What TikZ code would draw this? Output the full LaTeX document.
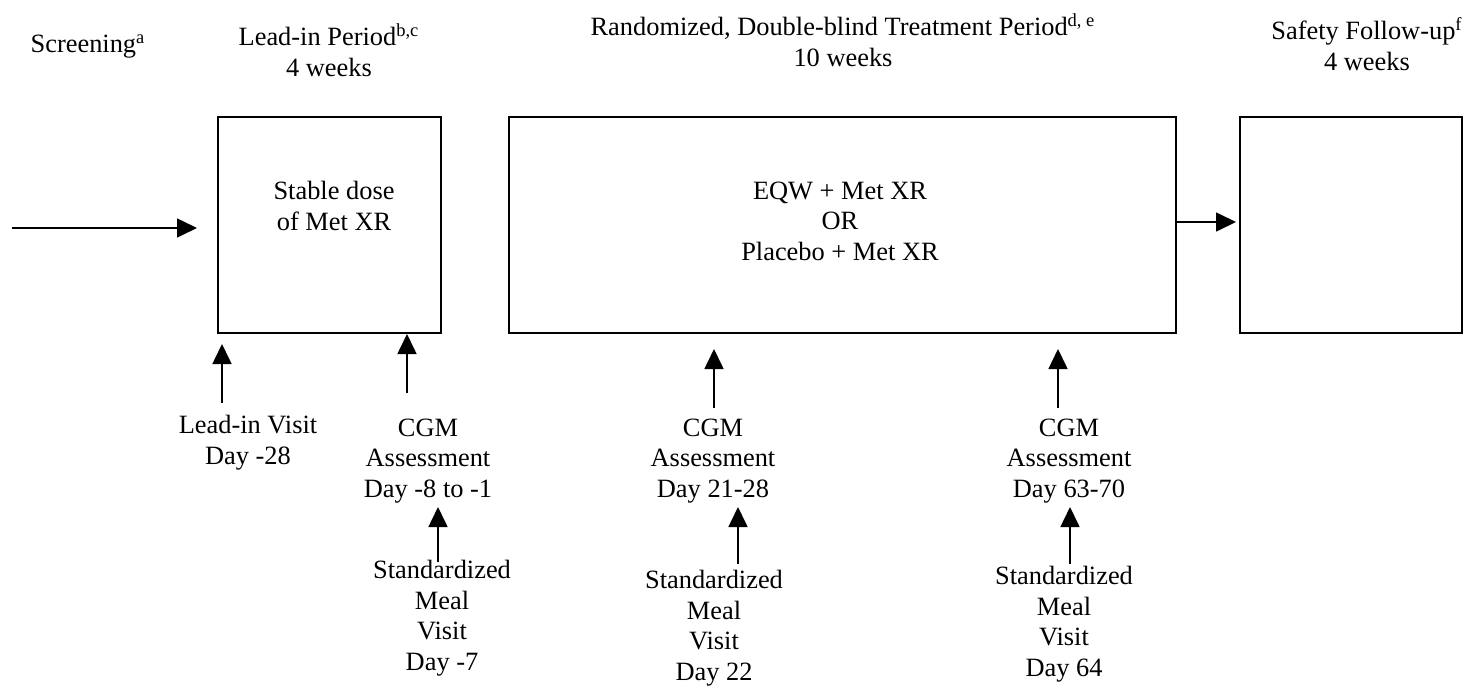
\documentclass[tikz,border=0pt]{standalone}
\usepackage{fontspec}
\setmainfont{Liberation Serif}
\usetikzlibrary{arrows.meta}
\begin{document}
\begin{tikzpicture}[x=0.5pt,y=-0.5pt,
  txt/.style={font=\fontsize{13.2}{15.25}\selectfont, align=center, inner sep=0pt, anchor=base},
  box/.style={draw, line width=1pt, inner sep=0pt},
  arr/.style={line width=0.8pt, -{Triangle[length=10pt,width=9.5pt]}}]
\useasboundingbox (0,0) rectangle (1466,685);

% headings (anchor = baseline of last line)
\node[txt] (scr) at (88,52) {Screening\textsuperscript{a}};
\node[txt] (lead) at (329,76) {Lead-in Period\textsuperscript{b,c}\\4 weeks};
\node[txt] (rand) at (843,66) {Randomized, Double-blind Treatment Period\textsuperscript{d, e}\\10 weeks};
\node[txt] (safe) at (1367,70) {Safety Follow-up\textsuperscript{f}\\4 weeks};

% boxes
\node[box, minimum width=111.5pt, minimum height=108pt] (b1) at (329.5,225) {};
\node[box, minimum width=333.5pt, minimum height=108pt] (b2) at (842.5,225) {};
\node[box, minimum width=111pt, minimum height=108pt] (b3) at (1351,225) {};

\node[txt] (b1t) at (334,230) {Stable dose\\of Met XR};
\node[txt] (b2t) at (840,260) {EQW + Met XR\\OR\\Placebo + Met XR};

% horizontal arrows
\coordinate (start) at (12,228);
\coordinate (lefttip) at (197,228);
\draw[arr] (start) -- (lefttip);
\coordinate (b2out) at (1176,222);
\coordinate (b3in) at (1236,222);
\draw[arr] (b2out) -- (b3in);

% bottom labels
\node[txt] (lv) at (248,464) {Lead-in Visit\\Day -28};
\node[txt] (cgm1) at (428,497) {CGM\\Assessment\\Day -8 to -1};
\node[txt] (sm1) at (442,670) {Standardized\\Meal\\Visit\\Day -7};
\node[txt] (cgm2) at (713,497) {CGM\\Assessment\\Day 21-28};
\node[txt] (sm2) at (714,680) {Standardized\\Meal\\Visit\\Day 22};
\node[txt] (cgm3) at (1069,497) {CGM\\Assessment\\Day 63-70};
\node[txt] (sm3) at (1064,676) {Standardized\\Meal\\Visit\\Day 64};

% vertical arrows
\coordinate (a1s) at (222,403); \coordinate (a1e) at (222,344);
\coordinate (a2s) at (407,393); \coordinate (a2e) at (407,334);
\coordinate (a3s) at (438,562); \coordinate (a3e) at (438,507);
\coordinate (a4s) at (714,408); \coordinate (a4e) at (714,349);
\coordinate (a5s) at (738,564); \coordinate (a5e) at (738,507);
\coordinate (a6s) at (1058,408); \coordinate (a6e) at (1058,349);
\coordinate (a7s) at (1070,564); \coordinate (a7e) at (1070,507);
\foreach \i in {1,...,7} {\draw[arr] (a\i s) -- (a\i e);}
\end{tikzpicture}
\end{document}
